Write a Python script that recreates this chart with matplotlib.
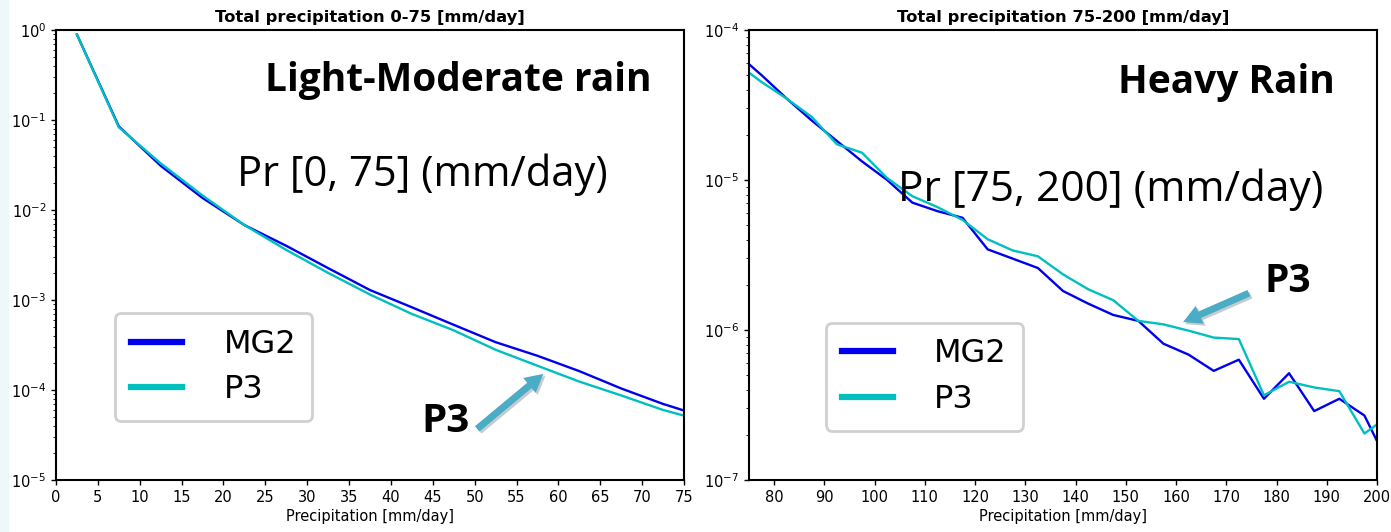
import numpy as np
import matplotlib
matplotlib.use("Agg")
import matplotlib.pyplot as plt
import matplotlib.patheffects as pe
from matplotlib.patches import Rectangle

# bin centres (mm/day) and frequency for each scheme
precip = [2.5, 7.5, 12.5, 17.5, 22.5, 27.5, 32.5, 37.5, 42.5, 47.5,
          52.5, 57.5, 62.5, 67.5, 72.5, 77.5, 82.5, 87.5, 92.5, 97.5,
          102.5, 107.5, 112.5, 117.5, 122.5, 127.5, 132.5, 137.5, 142.5, 147.5,
          152.5, 157.5, 162.5, 167.5, 172.5, 177.5, 182.5, 187.5, 192.5, 197.5,
          202.5]
mg2 = [0.89, 0.085, 0.031, 0.0136, 0.0068, 0.0040, 0.00226, 0.00129, 8.3e-4, 5.3e-4,
       3.4e-4, 2.4e-4, 1.62e-4, 1.04e-4, 7.0e-5, 5.0e-5, 3.49e-5, 2.49e-5, 1.82e-5, 1.33e-5,
       1.0e-5, 7.07e-6, 6.2e-6, 5.6e-6, 3.45e-6, 2.99e-6, 2.59e-6, 1.82e-6, 1.5e-6, 1.26e-6,
       1.15e-6, 8.1e-7, 6.85e-7, 5.34e-7, 6.34e-7, 3.48e-7, 5.15e-7, 2.88e-7, 3.48e-7, 2.69e-7,
       1.23e-7]
p3 = [0.89, 0.083, 0.033, 0.0145, 0.0068, 0.0036, 0.0020, 0.00115, 7.0e-4, 4.6e-4,
      2.8e-4, 1.86e-4, 1.24e-4, 8.7e-5, 6.0e-5, 4.5e-5, 3.49e-5, 2.63e-5, 1.73e-5, 1.52e-5,
      1.03e-5, 7.8e-6, 6.6e-6, 5.42e-6, 4.03e-6, 3.39e-6, 3.1e-6, 2.35e-6, 1.87e-6, 1.58e-6,
      1.15e-6, 1.09e-6, 9.9e-7, 8.9e-7, 8.7e-7, 3.67e-7, 4.52e-7, 4.14e-7, 3.91e-7, 2.04e-7,
      2.7e-7]

titles = ["Total precipitation 0-75 [mm/day]", "Total precipitation 75-200 [mm/day]"]
headers = ["Light-Moderate rain", "Heavy Rain"]
ranges = ["Pr [0, 75] (mm/day)", "Pr [75, 200] (mm/day)"]

arrow_col = "#4bacc6"
txt_font = ["Open Sans", "DejaVu Sans"]

fig = plt.figure(figsize=(13.91, 5.32), dpi=100)
fig.patches.append(Rectangle((0, 0), 8 / 1391, 1, transform=fig.transFigure,
                             color="#eef8fa", zorder=0))

ax1 = fig.add_axes([56 / 1391, 52 / 532, 628 / 1391, 450 / 532])
ax2 = fig.add_axes([749 / 1391, 52 / 532, 628 / 1391, 450 / 532])

for ax in (ax1, ax2):
    ax.plot(precip, mg2, color="#0000f0", lw=1.7, label="MG2")
    ax.plot(precip, p3, color="#00bfbf", lw=1.7, label="P3")
    ax.set_yscale("log")
    ax.set_xlabel("Precipitation [mm/day]", fontsize=10.5, labelpad=3)
    ax.tick_params(labelsize=10.5, width=1.0)
    for s in ax.spines.values():
        s.set_linewidth(1.5)

ax1.set_xlim(0, 75)
ax1.set_ylim(1e-5, 1)
ax1.set_xticks(np.arange(0, 76, 5))
ax2.set_xlim(75, 200)
ax2.set_ylim(1e-7, 1e-4)
ax2.set_xticks(np.arange(80, 201, 10))

ax1.set_title(titles[0], fontsize=11.8, fontweight="bold", pad=6)
ax2.set_title(titles[1], fontsize=11.8, fontweight="bold", pad=6)

leg_pos = [(0.094, 0.371), (0.122, 0.35)]
for ax, pos in zip((ax1, ax2), leg_pos):
    leg = ax.legend(loc="upper left", bbox_to_anchor=pos, fontsize=23,
                    handlelength=1.6, handletextpad=1.3, borderpad=0.5,
                    borderaxespad=0, labelspacing=0.45, fancybox=True,
                    framealpha=1, edgecolor="#d0d0d0")
    leg.get_frame().set_linewidth(2)
    for ln in leg.get_lines():
        ln.set_linewidth(4.5)

# big annotation texts
ax1.text(0.641, 0.864, headers[0], transform=ax1.transAxes, ha="center",
         va="baseline", fontsize=28, fontweight="bold", family=txt_font)
ax1.text(0.584, 0.653, ranges[0], transform=ax1.transAxes, ha="center",
         va="baseline", fontsize=30, family=txt_font)
ax1.text(0.621, 0.107, "P3", transform=ax1.transAxes, ha="center",
         va="baseline", fontsize=29, fontweight="bold", family=txt_font)

ax2.text(0.760, 0.86, headers[1], transform=ax2.transAxes, ha="center",
         va="baseline", fontsize=28, fontweight="bold", family=txt_font)
ax2.text(0.576, 0.62, ranges[1], transform=ax2.transAxes, ha="center",
         va="baseline", fontsize=30.5, family=txt_font)
ax2.text(0.8575, 0.418, "P3", transform=ax2.transAxes, ha="center",
         va="baseline", fontsize=28, fontweight="bold", family=txt_font)

arrows = [(ax1, (58.2, 1.51e-4), (50.3, 3.7e-5)),
          (ax2, (161.4, 1.13e-6), (174.5, 1.76e-6))]
for ax, head, tail in arrows:
    a = ax.annotate("", xy=head, xytext=tail,
                    arrowprops=dict(arrowstyle="simple,head_length=0.65,head_width=0.7,tail_width=0.25",
                                    color=arrow_col, lw=0, shrinkA=0, shrinkB=0,
                                    mutation_scale=20))
    a.arrow_patch.set_path_effects([pe.SimplePatchShadow(offset=(1.5, -1.5), alpha=0.25),
                                    pe.Normal()])

fig.savefig("out.png", dpi=100)
